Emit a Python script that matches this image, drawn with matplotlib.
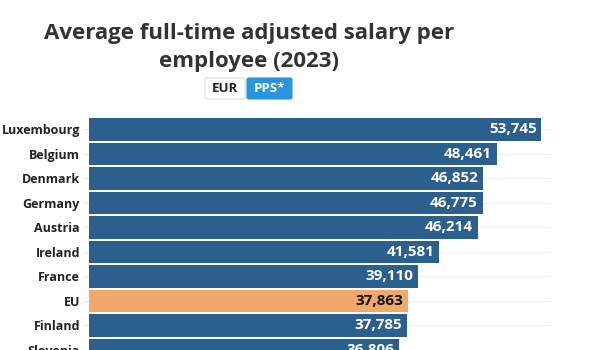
import numpy as np
import matplotlib.pyplot as plt
from matplotlib.patches import FancyBboxPatch

countries = ['Luxembourg', 'Belgium', 'Denmark', 'Germany', 'Austria',
             'Ireland', 'France', 'EU', 'Finland', 'Slovenia']
salary = [53745, 48461, 46852, 46775, 46214, 41581, 39110, 37863, 37785, 36806]

blue = '#2b5f8e'
orange = '#f0a96a'
colors = [orange if c == 'EU' else blue for c in countries]

plt.rcParams['font.family'] = ['Open Sans', 'DejaVu Sans']

fig = plt.figure(figsize=(6, 3.5), dpi=100)
W, H = 600, 350
ax = fig.add_axes([89 / W, 0, (551 - 89) / W, (350 - 116) / H])

y = np.arange(len(countries))
ax.barh(y, salary, height=0.93, color=colors, zorder=2)

for i, (v, c) in enumerate(zip(salary, countries)):
    txt_col = '#111111' if c == 'EU' else 'white'
    ax.text(v - 550, i, f'{v:,}', ha='right', va='center', color=txt_col,
            fontsize=11, fontweight='bold', zorder=3)

ax.set_xlim(0, 54900)
ax.set_ylim(9.0, -0.55)
ax.set_yticks(y)
ax.set_yticklabels(countries, fontsize=9, fontweight='bold', color='#222222')
ax.tick_params(axis='y', length=4.5, color='#e6e6e6', pad=2)
ax.set_xticks([])
ax.grid(axis='y', color='#eeeeee', linewidth=0.8, zorder=0)
for s in ax.spines.values():
    s.set_visible(False)

fig.text(249 / W, 1 - 33 / H, 'Average full-time adjusted salary per',
         ha='center', va='center', fontsize=16, fontweight='bold', color='#333333')
fig.text(249 / W, 1 - 61 / H, 'employee (2023)',
         ha='center', va='center', fontsize=16, fontweight='bold', color='#333333')

# currency toggle buttons
b1 = FancyBboxPatch((205 / W, 1 - 99 / H), 40 / W, 21 / H,
                    boxstyle='round,pad=0,rounding_size=0.004',
                    transform=fig.transFigure, facecolor='white',
                    edgecolor='#dddddd', linewidth=0.8)
b2 = FancyBboxPatch((247 / W, 1 - 99 / H), 45 / W, 21 / H,
                    boxstyle='round,pad=0,rounding_size=0.004',
                    transform=fig.transFigure, facecolor='#2a95dc',
                    edgecolor='#2a95dc', linewidth=0.8)
fig.patches.extend([b1, b2])
fig.text(225 / W, 1 - 88.5 / H, 'EUR', ha='center', va='center',
         fontsize=9.5, fontweight='bold', color='#222222')
fig.text(269.5 / W, 1 - 88.5 / H, 'PPS*', ha='center', va='center',
         fontsize=9.5, fontweight='bold', color='white')

fig.savefig('out.png', dpi=100)
